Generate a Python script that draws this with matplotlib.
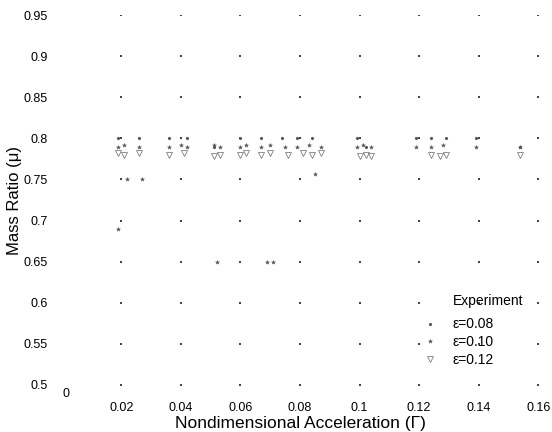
import matplotlib
matplotlib.use("Agg")
import matplotlib.pyplot as plt
import matplotlib.transforms as mtransforms
from matplotlib.lines import Line2D
import numpy as np

plt.rcParams['font.family'] = ['Liberation Sans', 'DejaVu Sans']

# tick values
x_ticks = [0, 0.02, 0.04, 0.06, 0.08, 0.1, 0.12, 0.14, 0.16]
x_labels = ['0', '0.02', '0.04', '0.06', '0.08', '0.1', '0.12', '0.14', '0.16']
y_ticks = [0.5, 0.55, 0.6, 0.65, 0.7, 0.75, 0.8, 0.85, 0.9, 0.95]
y_labels = ['0.5', '0.55', '0.6', '0.65', '0.7', '0.75', '0.8', '0.85', '0.9', '0.95']

# experiment, eps = 0.08
gamma_08 = [0.019, 0.026, 0.036, 0.042, 0.051, 0.060, 0.067, 0.074, 0.079, 0.084,
            0.099, 0.102, 0.119, 0.124, 0.129, 0.139, 0.154]
mu_08 = [0.800, 0.800, 0.800, 0.800, 0.790, 0.800, 0.800, 0.800, 0.800, 0.800,
         0.800, 0.790, 0.800, 0.800, 0.800, 0.800, 0.790]

# experiment, eps = 0.10
gamma_10 = [0.019, 0.021, 0.026, 0.036, 0.040, 0.042, 0.051, 0.053, 0.060, 0.062,
            0.067, 0.070, 0.075, 0.079, 0.083, 0.087, 0.099, 0.101, 0.104,
            0.119, 0.124, 0.128, 0.139, 0.154,
            0.022, 0.027, 0.019, 0.052, 0.069, 0.071, 0.085]
mu_10 = [0.790, 0.792, 0.790, 0.790, 0.792, 0.790, 0.792, 0.790, 0.790, 0.792,
         0.790, 0.792, 0.790, 0.790, 0.792, 0.790, 0.790, 0.792, 0.790,
         0.790, 0.790, 0.792, 0.790, 0.790,
         0.750, 0.750, 0.690, 0.650, 0.650, 0.650, 0.757]

# experiment, eps = 0.12
gamma_12 = [0.019, 0.021, 0.026, 0.036, 0.041, 0.051, 0.053, 0.060, 0.062, 0.067,
            0.070, 0.076, 0.081, 0.084, 0.087, 0.100, 0.102, 0.104, 0.124,
            0.127, 0.129, 0.154]
mu_12 = [0.782, 0.780, 0.782, 0.780, 0.782, 0.778, 0.780, 0.780, 0.782, 0.780,
         0.782, 0.780, 0.782, 0.780, 0.782, 0.778, 0.780, 0.778, 0.780,
         0.778, 0.780, 0.780]

fig = plt.figure(figsize=(5.52, 4.32), dpi=100)
ax = fig.add_axes([0.112, 0.109, 0.863, 0.856])

# dotted grid: only the crossings survive in the scan
gx, gy = np.meshgrid(x_ticks[1:], y_ticks)
ax.scatter(gx.ravel(), gy.ravel(), s=1.2, color='#444444', marker='s', linewidths=0)

ax.plot(gamma_08, mu_08, linestyle='none', marker='.', markersize=2.5,
        color='#555555')
ax.plot(gamma_10, mu_10, linestyle='none', marker='*', markersize=3,
        color='#555555', markeredgewidth=0.3)
ax.plot(gamma_12, mu_12, linestyle='none', marker='v', markersize=5,
        markerfacecolor='none', markeredgecolor='#666666', markeredgewidth=0.5)

ax.set_xlim(0, 0.16)
ax.set_ylim(0.5, 0.95)
ax.set_xticks(x_ticks)
ax.set_xticklabels(x_labels)
ax.set_yticks(y_ticks)
ax.set_yticklabels(y_labels)
ax.tick_params(length=0, labelsize=9, pad=12)
ax.tick_params(axis='y', pad=10)
for s in ax.spines.values():
    s.set_visible(False)

# the "0" label sits higher than the others
offset = mtransforms.ScaledTranslation(0.04, 0.14, fig.dpi_scale_trans)
first = ax.xaxis.get_majorticklabels()[0]
first.set_transform(first.get_transform() + offset)

ax.set_xlabel('Nondimensional Acceleration (Γ)', fontsize=12.5, labelpad=2)
ax.set_ylabel('Mass Ratio (μ)', fontsize=12, labelpad=1)

handles = [
    Line2D([], [], linestyle='none', marker='.', markersize=2.5, color='#555555'),
    Line2D([], [], linestyle='none', marker='*', markersize=3, color='#555555',
           markeredgewidth=0.3),
    Line2D([], [], linestyle='none', marker='v', markersize=5,
           markerfacecolor='none', markeredgecolor='#666666', markeredgewidth=0.5),
]
labels = ['ε=0.08', 'ε=0.10', 'ε=0.12']
ax.legend(handles, labels, loc='lower left', bbox_to_anchor=(0.73, 0.015),
          frameon=False, fontsize=10, handlelength=1.2, handletextpad=1.0,
          labelspacing=0.27)
ax.text(0.821, 0.227, 'Experiment', transform=ax.transAxes, fontsize=10,
        ha='left', va='center')

fig.savefig('out.png', dpi=100)
